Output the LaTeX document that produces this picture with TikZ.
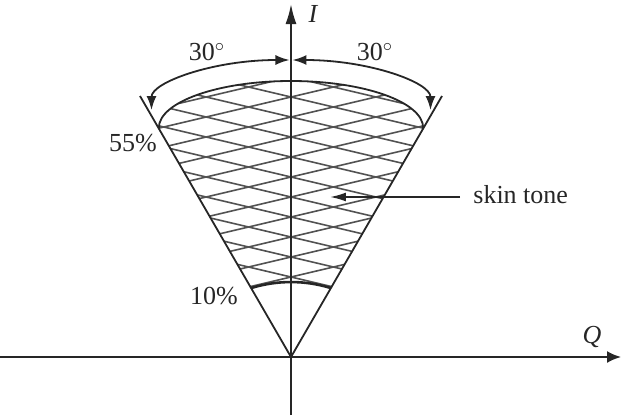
\documentclass[tikz,border=0pt]{standalone}
\usepackage{fontspec}
\setmainfont{Liberation Serif}
\usetikzlibrary{arrows.meta}
\begin{document}
\begin{tikzpicture}[x=0.5pt,y=0.5pt,
  lbl/.style={font=\fontsize{13}{15}\selectfont, inner sep=0pt, text=black!85},
  edge/.style={line width=0.9pt, draw=black!85},
  axis/.style={line width=1pt, draw=black!85},
  hatch/.style={line width=0.8pt, draw=black!68},
  angarrow/.style={line width=0.9pt, draw=black!85, {Latex[length=7pt,width=5pt]}-{Latex[length=7pt,width=5pt]}},
]
\useasboundingbox (-291,-62) rectangle (330,357);
\coordinate (O) at (0,0);
\coordinate (Qs) at (-291,0);
\coordinate (Qe) at (330,0);
\coordinate (Is) at (0,-58);
\coordinate (Ie) at (0,353);
\coordinate (CL) at (-151,261);
\coordinate (CR) at (151,261);
\coordinate (HL) at (-132.2,229);
\coordinate (HR) at (132.2,229);
\coordinate (BL) at (-39.7,69);
\coordinate (BR) at (39.7,69);

% hatching
\begin{scope}
\clip (BL) -- (HL) arc[start angle=180,end angle=0,x radius=132.2,y radius=47] -- (BR) arc[start angle=72.9,end angle=107.1,radius=135] -- cycle;
\foreach \c in {0,20,...,360} {
  \draw[hatch] (-140,{\c-33}) -- (140,{\c+33});
  \draw[hatch] (-140,{\c+33}) -- (140,{\c-33});
}
\end{scope}

% region borders
\draw[edge] (HL) arc[start angle=180,end angle=0,x radius=132.2,y radius=47];
\draw[line width=1.3pt, draw=black!85] (BL) arc[start angle=107.1,end angle=72.9,radius=135];

% cone lines
\draw[edge] (O) -- (CL);
\draw[edge] (O) -- (CR);

% axes
\draw[axis, -{Latex[length=7pt,width=6pt]}] (Qs) -- (Qe);
\draw[axis, -{Latex[length=10pt,width=5.5pt]}] (Is) -- (Ie);

% angle arrows
\draw[angarrow] (-1.5,297) arc[start angle=90,end angle=180,x radius=138,y radius=50];
\draw[angarrow] (1.5,297) arc[start angle=90,end angle=0,x radius=138,y radius=50];

% labels
\node[lbl] (a1) at (-84,305) {30$^{\circ}$};
\node[lbl] (a2) at (84,305) {30$^{\circ}$};
\node[lbl, font=\fontsize{13}{15}\selectfont\itshape] (Ilab) at (22,343) {I};
\node[lbl, font=\fontsize{13}{15}\selectfont\itshape] (Qlab) at (301,20) {Q};
\node[lbl] (p55) at (-158,214) {55\%};
\node[lbl] (p10) at (-77,61) {10\%};
\node[lbl, anchor=west] (skin) at (182,162) {skin tone};
\coordinate (skint) at (39,160);
\draw[edge, -{Latex[length=8pt,width=4.5pt]}] (169,160) -- (skint);
\end{tikzpicture}
\end{document}
